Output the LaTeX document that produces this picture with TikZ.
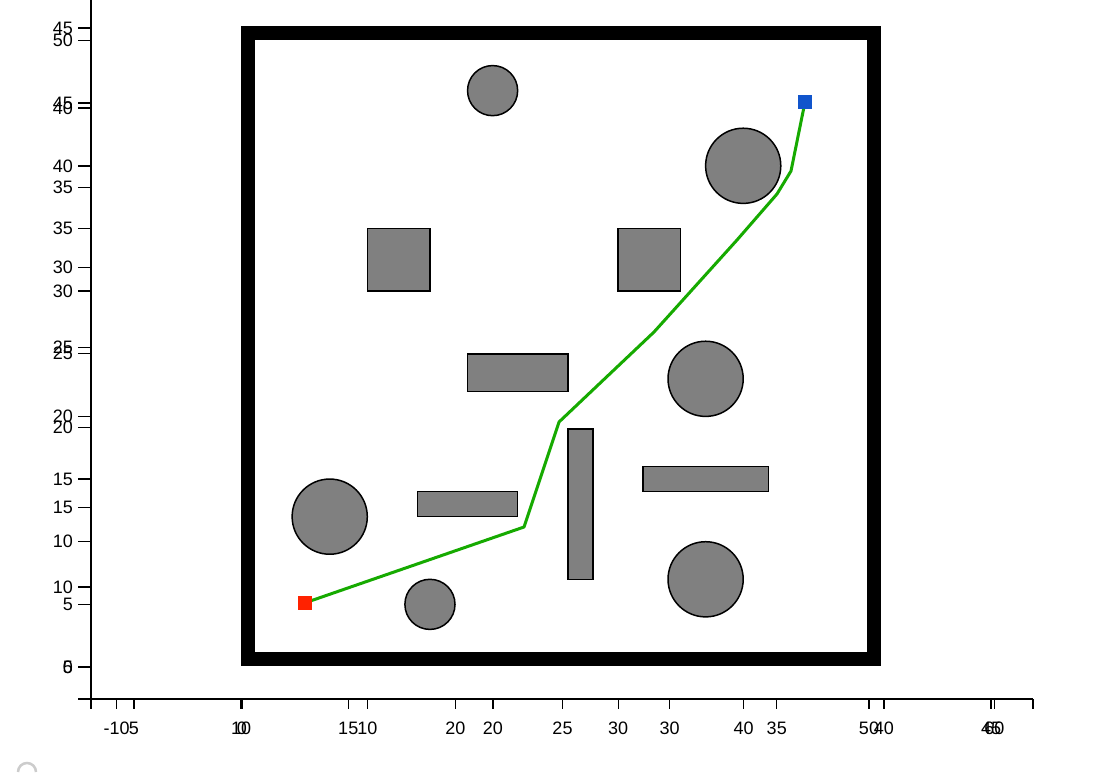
\documentclass[tikz,border=0pt]{standalone}
\usepackage{fontspec}
\setmainfont{Liberation Sans}
\definecolor{routegreen}{RGB}{22,170,0}
\definecolor{startred}{RGB}{255,34,0}
\definecolor{goalblue}{RGB}{17,85,204}
\definecolor{obstgray}{RGB}{128,128,128}
\begin{document}
\begin{tikzpicture}[x=1pt,y=-1pt,
  axisline/.style={line width=1.4pt, draw=black},
  ticklab/.style={font=\fontsize{18}{20}\selectfont, inner sep=0pt},
  obst/.style={fill=obstgray, draw=black, line width=1.5pt},
  wall/.style={line width=14pt, draw=black},
  route/.style={line width=3pt, draw=routegreen, line join=round},
  startsq/.style={fill=startred, minimum size=14pt, inner sep=0pt},
  goalsq/.style={fill=goalblue, minimum size=14pt, inner sep=0pt}]
\useasboundingbox (0,0) rectangle (1106,772);
\fill[white] (0,0) rectangle (1106,772);

% axes
\draw[axisline] (91,0) -- (91,709);
\draw[axisline] (78,699) -- (1033,699);
\draw[axisline] (1033,699) -- (1033,709);

% y ticks, first scale
\foreach \v in {0,5,...,50} {
  \draw[axisline] (78,{667-12.53*\v}) -- (91,{667-12.53*\v});
  \node[ticklab,anchor=east] (ya\v) at (73,{667-12.53*\v}) {\v};
}
% y ticks, second scale
\foreach \v in {5,10,...,45} {
  \draw[axisline] (78,{667-15.975*(\v-5)}) -- (91,{667-15.975*(\v-5)});
  \node[ticklab,anchor=east] (yb\v) at (73,{667-15.975*(\v-5)}) {\v};
}
% x ticks, first scale
\foreach \v in {-10,0,...,60} {
  \draw[axisline] ({242+12.54*\v},699) -- ({242+12.54*\v},709);
  \node[ticklab,anchor=north] (xa\v) at ({242+12.54*\v},722) {\v};
}
% x ticks, second scale
\foreach \v in {5,10,...,45} {
  \draw[axisline] ({134+21.425*(\v-5)},699) -- ({134+21.425*(\v-5)},709);
  \node[ticklab,anchor=north] (xb\v) at ({134+21.425*(\v-5)},722) {\v};
}

% wall
\draw[wall] (248,33) rectangle (874,659);

% obstacles
\begin{scope}[shift={(242pt,-667pt)},x=12.53pt,y=12.53pt]
  \draw[obst] (20,46) circle[radius=2];
  \draw[obst] (40,40) circle[radius=3];
  \draw[obst] (37,23) circle[radius=3];
  \draw[obst] (37,7) circle[radius=3];
  \draw[obst] (7,12) circle[radius=3];
  \draw[obst] (15,5) circle[radius=2];
  \draw[obst] (10,30) rectangle (15,35);
  \draw[obst] (30,30) rectangle (35,35);
  \draw[obst] (18,22) rectangle (26,25);
  \draw[obst] (26,7) rectangle (28,19);
  \draw[obst] (32,14) rectangle (42,16);
  \draw[obst] (14,12) rectangle (22,14);
\end{scope}

% route
\coordinate (s) at (304.5,603);
\coordinate (g) at (805,102);
\coordinate (p1) at (524,527);
\coordinate (p2) at (559,422);
\coordinate (p3) at (654,332);
\coordinate (p4) at (737,240);
\coordinate (p5) at (777,194);
\coordinate (p6) at (791,171);
\draw[route] (s) -- (p1) -- (p2) -- (p3) -- (p4) -- (p5) -- (p6) -- (g);
\node[startsq] (start) at (s) {};
\node[goalsq] (goal) at (g) {};

% small spinner at the corner
\draw[gray!40, line width=2.5pt] (18,772) arc[start angle=180, end angle=360, radius=9];
\end{tikzpicture}
\end{document}
